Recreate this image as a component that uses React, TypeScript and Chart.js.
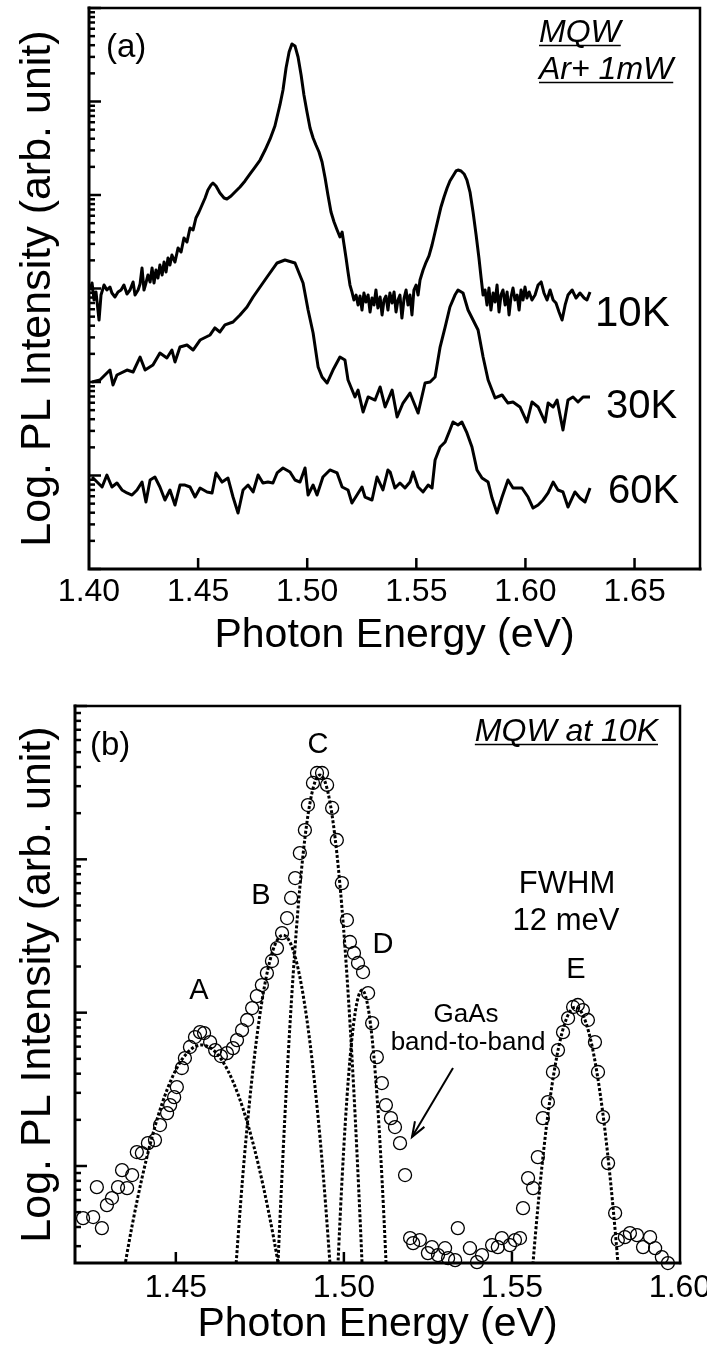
import React, { useEffect, useRef } from "react";
import { Chart, registerables } from "chart.js";

Chart.register(...registerables);

const FONT = "'Liberation Sans', Arial, Helvetica, sans-serif";

// ---------- Panel (a): PL spectra, [photon energy (eV), log10 PL intensity] ----------
const spectrum10K: [number, number][] = [
  [1.4005, 2.984], [1.4014, 3.059], [1.4023, 2.877], [1.4032, 2.963], [1.4046, 2.663], [1.4055, 2.93],
  [1.4069, 3.037], [1.4082, 2.984], [1.4096, 3.016], [1.4105, 2.952], [1.4119, 2.909], [1.4133, 2.963],
  [1.4147, 2.984], [1.416, 3.037], [1.4174, 2.941], [1.4188, 2.984], [1.4202, 3.07], [1.4211, 2.93],
  [1.4225, 2.984], [1.4234, 3.048], [1.4243, 3.219], [1.4252, 2.984], [1.4261, 3.059], [1.427, 3.144],
  [1.428, 3.07], [1.4289, 3.219], [1.4298, 3.059], [1.4307, 3.198], [1.4316, 3.112], [1.4325, 3.251],
  [1.4335, 3.144], [1.4344, 3.283], [1.4353, 3.176], [1.4362, 3.326], [1.4371, 3.251], [1.438, 3.358],
  [1.4394, 3.283], [1.4408, 3.433], [1.4422, 3.39], [1.4435, 3.54], [1.4449, 3.497], [1.4463, 3.647],
  [1.4477, 3.626], [1.449, 3.754], [1.4504, 3.818], [1.4518, 3.893], [1.4532, 3.968], [1.4545, 4.053],
  [1.4559, 4.107], [1.4568, 4.128], [1.4582, 4.096], [1.46, 4.021], [1.4619, 3.968], [1.4632, 3.957],
  [1.4651, 3.989], [1.4669, 4.032], [1.4692, 4.086], [1.4715, 4.15], [1.4738, 4.225], [1.4761, 4.299],
  [1.4784, 4.374], [1.4807, 4.481], [1.483, 4.599], [1.4852, 4.738], [1.4875, 4.963], [1.4889, 5.123],
  [1.4903, 5.358], [1.4917, 5.529], [1.493, 5.615], [1.4944, 5.594], [1.4958, 5.476], [1.4972, 5.283],
  [1.4985, 5.07], [1.4999, 4.888], [1.5013, 4.717], [1.5027, 4.61], [1.504, 4.535], [1.5054, 4.46],
  [1.5068, 4.353], [1.5082, 4.182], [1.5095, 4.0], [1.5109, 3.818], [1.5123, 3.711], [1.5137, 3.626],
  [1.515, 3.551], [1.516, 3.604], [1.5169, 3.465], [1.5178, 3.326], [1.5187, 3.176], [1.5196, 3.037],
  [1.5205, 2.963], [1.5214, 2.877], [1.5224, 2.93], [1.5233, 2.824], [1.5242, 2.92], [1.5251, 2.77],
  [1.526, 2.952], [1.5269, 2.856], [1.5279, 2.93], [1.5288, 2.749], [1.5297, 2.898], [1.5306, 2.824],
  [1.5315, 2.984], [1.5324, 2.791], [1.5334, 2.909], [1.5343, 2.717], [1.5352, 2.877], [1.5361, 2.92],
  [1.537, 2.77], [1.5379, 2.952], [1.5389, 2.845], [1.5398, 2.963], [1.5407, 2.749], [1.5416, 2.877],
  [1.5425, 2.93], [1.5434, 2.684], [1.5444, 2.898], [1.5453, 2.984], [1.5462, 2.824], [1.5471, 2.93],
  [1.548, 2.717], [1.5489, 2.984], [1.5499, 3.037], [1.5508, 2.93], [1.5517, 3.091], [1.5531, 3.198],
  [1.5545, 3.283], [1.5558, 3.348], [1.5572, 3.465], [1.5586, 3.604], [1.5599, 3.733], [1.5613, 3.872],
  [1.5627, 3.979], [1.5641, 4.075], [1.5654, 4.15], [1.5668, 4.203], [1.5682, 4.257], [1.5691, 4.267],
  [1.5705, 4.257], [1.5719, 4.225], [1.5732, 4.16], [1.5746, 4.032], [1.576, 3.818], [1.5774, 3.572],
  [1.5787, 3.326], [1.5797, 3.112], [1.5806, 2.93], [1.5815, 2.984], [1.5824, 2.824], [1.5833, 3.005],
  [1.5842, 2.77], [1.5852, 2.952], [1.5861, 2.856], [1.587, 3.037], [1.5879, 2.749], [1.5888, 2.93],
  [1.5897, 2.984], [1.5907, 2.824], [1.5916, 2.963], [1.5925, 2.717], [1.5934, 2.909], [1.5943, 3.005],
  [1.5952, 2.877], [1.5962, 2.93], [1.5971, 2.77], [1.598, 2.984], [1.5989, 2.877], [1.5998, 3.016],
  [1.6007, 2.898], [1.6017, 2.963], [1.603, 2.877], [1.6044, 2.93], [1.6058, 3.037], [1.6072, 3.07],
  [1.6085, 2.952], [1.6099, 2.877], [1.6113, 2.984], [1.6127, 2.877], [1.614, 2.845], [1.6154, 2.749],
  [1.6168, 2.663], [1.6182, 2.824], [1.6195, 2.93], [1.6214, 2.984], [1.6232, 2.898], [1.625, 2.952],
  [1.6269, 2.898], [1.6282, 2.877], [1.6296, 2.963],
];

const spectrum30K: [number, number][] = [
  [1.4014, 2.0], [1.405, 2.021], [1.4096, 2.128], [1.411, 1.968], [1.4128, 2.075], [1.4174, 2.128],
  [1.4202, 2.107], [1.4234, 2.267], [1.4257, 2.128], [1.4293, 2.182], [1.4325, 2.31], [1.4357, 2.257],
  [1.438, 2.342], [1.4394, 2.214], [1.4417, 2.374], [1.4449, 2.396], [1.4477, 2.342], [1.4509, 2.449],
  [1.4555, 2.503], [1.4577, 2.578], [1.46, 2.535], [1.4623, 2.61], [1.466, 2.642], [1.4692, 2.717],
  [1.4724, 2.802], [1.4752, 2.909], [1.4784, 3.016], [1.4816, 3.123], [1.4862, 3.273], [1.4898, 3.305],
  [1.4944, 3.273], [1.4981, 3.059], [1.5004, 2.77], [1.5027, 2.524], [1.505, 2.16], [1.5068, 2.053],
  [1.5091, 1.989], [1.5118, 2.128], [1.515, 2.267], [1.5173, 2.235], [1.5187, 2.021], [1.5219, 1.84],
  [1.5233, 1.914], [1.5256, 1.679], [1.5279, 1.84], [1.5311, 1.807], [1.5334, 1.947], [1.5357, 1.733],
  [1.5389, 1.914], [1.5412, 1.626], [1.5439, 1.775], [1.5471, 1.882], [1.5508, 1.668], [1.554, 1.989],
  [1.5563, 2.0], [1.5586, 2.053], [1.5609, 2.374], [1.5632, 2.588], [1.5654, 2.802], [1.5677, 2.93],
  [1.5691, 2.984], [1.5714, 2.952], [1.5737, 2.77], [1.5783, 2.556], [1.5806, 2.267], [1.5829, 2.021],
  [1.5861, 1.829], [1.5893, 1.861], [1.592, 1.775], [1.5943, 1.786], [1.5975, 1.733], [1.6007, 1.572],
  [1.603, 1.786], [1.6058, 1.733], [1.609, 1.572], [1.6104, 1.775], [1.6127, 1.733], [1.6145, 1.807],
  [1.6172, 1.487], [1.6195, 1.807], [1.6218, 1.84], [1.6241, 1.786], [1.6264, 1.84], [1.6296, 1.84],
];

const spectrum60K: [number, number][] = [
  [1.4014, 0.984], [1.4037, 0.93], [1.406, 0.877], [1.4082, 1.005], [1.4105, 0.877], [1.4128, 0.92],
  [1.4151, 0.845], [1.4174, 0.813], [1.4197, 0.791], [1.422, 0.845], [1.4243, 0.93], [1.4261, 0.717],
  [1.428, 0.952], [1.4302, 0.984], [1.4325, 0.877], [1.4348, 0.738], [1.4371, 0.845], [1.4394, 0.684],
  [1.4417, 0.898], [1.444, 0.898], [1.4463, 0.877], [1.4486, 0.77], [1.4509, 0.866], [1.4541, 0.824],
  [1.4564, 0.813], [1.4582, 1.027], [1.461, 0.93], [1.4637, 0.973], [1.466, 0.77], [1.4683, 0.599],
  [1.4706, 0.845], [1.4729, 0.898], [1.4752, 0.824], [1.4775, 1.005], [1.4797, 0.92], [1.482, 0.93],
  [1.4843, 0.92], [1.4862, 1.027], [1.4889, 1.08], [1.4921, 1.037], [1.4944, 0.952], [1.4967, 0.93],
  [1.499, 1.08], [1.5004, 0.791], [1.5027, 0.898], [1.5045, 0.791], [1.5072, 0.984], [1.5104, 1.059],
  [1.5137, 1.027], [1.516, 0.877], [1.5187, 0.845], [1.5205, 0.706], [1.5228, 0.791], [1.5251, 0.877],
  [1.5265, 0.77], [1.5297, 0.738], [1.532, 0.984], [1.5347, 0.845], [1.537, 1.059], [1.538, 1.037],
  [1.5402, 0.866], [1.5425, 0.92], [1.5448, 0.866], [1.5471, 0.93], [1.5485, 1.037], [1.5508, 0.877],
  [1.5531, 0.824], [1.5554, 0.898], [1.5572, 0.866], [1.5586, 1.166], [1.5609, 1.305], [1.5632, 1.358],
  [1.5654, 1.487], [1.5668, 1.572], [1.5691, 1.54], [1.5709, 1.572], [1.5732, 1.455], [1.5755, 1.305],
  [1.5778, 1.059], [1.5801, 0.973], [1.5829, 0.93], [1.5847, 0.759], [1.587, 0.599], [1.5893, 0.77],
  [1.592, 0.952], [1.5943, 0.866], [1.5984, 0.866], [1.6012, 0.77], [1.6035, 0.652], [1.6058, 0.684],
  [1.6081, 0.738], [1.6104, 0.813], [1.6127, 0.93], [1.6149, 0.845], [1.6172, 0.824], [1.6195, 0.663],
  [1.6227, 0.824], [1.625, 0.759], [1.6273, 0.717], [1.6296, 0.866],
];

const topTickValues = [1.4, 1.45, 1.5, 1.55, 1.6, 1.65];

// ---------- Panel (b): 10 K spectrum and its Gaussian components A–E ----------
const measured10K: [number, number][] = [
  [1.4224, 0.66], [1.4254, 0.667], [1.4265, 0.862], [1.428, 0.595], [1.4295, 0.745], [1.431, 0.791],
  [1.4328, 0.862], [1.434, 0.973], [1.4355, 0.856], [1.437, 0.941], [1.4384, 1.091], [1.4399, 1.084],
  [1.4417, 1.149], [1.4438, 1.169], [1.4453, 1.267], [1.4474, 1.345], [1.4483, 1.397], [1.4495, 1.449],
  [1.4503, 1.515], [1.4518, 1.639], [1.4527, 1.704], [1.4542, 1.776], [1.4557, 1.841], [1.4572, 1.873],
  [1.4584, 1.867], [1.4602, 1.808], [1.4617, 1.756], [1.4634, 1.717], [1.4652, 1.736], [1.467, 1.769],
  [1.4682, 1.821], [1.4697, 1.886], [1.4712, 1.952], [1.4727, 2.03], [1.4741, 2.108], [1.4756, 2.18],
  [1.4771, 2.258], [1.4786, 2.337], [1.4801, 2.421], [1.4816, 2.519], [1.4831, 2.617], [1.4843, 2.748],
  [1.4855, 2.878], [1.4869, 3.041], [1.4884, 3.191], [1.4893, 3.354], [1.4908, 3.498], [1.492, 3.563],
  [1.4935, 3.563], [1.495, 3.485], [1.4965, 3.335], [1.4979, 3.126], [1.4994, 2.845], [1.5009, 2.604],
  [1.5018, 2.461], [1.503, 2.389], [1.5042, 2.324], [1.5057, 2.265], [1.5072, 2.128], [1.5084, 1.932],
  [1.5098, 1.71], [1.5113, 1.541], [1.5125, 1.397], [1.514, 1.312], [1.5152, 1.254], [1.5167, 1.149],
  [1.5182, 0.941], [1.5197, 0.53], [1.5206, 0.497], [1.5226, 0.517], [1.525, 0.432], [1.5262, 0.471],
  [1.528, 0.419], [1.5301, 0.464], [1.531, 0.399], [1.5331, 0.386], [1.5339, 0.595], [1.5375, 0.464],
  [1.5396, 0.373], [1.5411, 0.419], [1.5441, 0.484], [1.5458, 0.471], [1.547, 0.53], [1.5494, 0.484],
  [1.5509, 0.517], [1.5524, 0.53], [1.5533, 0.725], [1.5548, 0.921], [1.5563, 0.856], [1.5577, 1.058],
  [1.5592, 1.312], [1.5607, 1.417], [1.5622, 1.613], [1.5637, 1.756], [1.5652, 1.873], [1.5667, 1.965],
  [1.5682, 2.037], [1.5696, 2.05], [1.5711, 2.017], [1.5726, 1.952], [1.5747, 1.808], [1.5756, 1.613],
  [1.5771, 1.319], [1.5786, 1.019], [1.5807, 0.693], [1.5815, 0.517], [1.5836, 0.536], [1.5851, 0.562],
  [1.5872, 0.549], [1.589, 0.471], [1.5911, 0.536], [1.5926, 0.464], [1.5946, 0.406], [1.5964, 0.367],
];

const fitA: [number, number][] = [
  [1.434, 0.246], [1.437, 0.612], [1.44, 0.928], [1.443, 1.195], [1.446, 1.413], [1.449, 1.581],
  [1.452, 1.7], [1.455, 1.769], [1.4577, 1.789], [1.461, 1.759], [1.464, 1.68], [1.467, 1.551],
  [1.47, 1.373], [1.473, 1.146], [1.476, 0.869], [1.479, 0.543], [1.482, 0.167],
];
const fitB: [number, number][] = [
  [1.4674, 0.205], [1.4699, 0.93], [1.4719, 1.412], [1.4739, 1.806], [1.4759, 2.112], [1.4779, 2.331],
  [1.4799, 2.462], [1.4819, 2.506], [1.4839, 2.462], [1.4859, 2.331], [1.4879, 2.112], [1.4899, 1.806],
  [1.4919, 1.412], [1.4939, 0.93], [1.4964, 0.205],
];
const fitC: [number, number][] = [
  [1.4799, 0.107], [1.4809, 0.617], [1.4829, 1.513], [1.4849, 2.246], [1.4869, 2.817], [1.4889, 3.224],
  [1.4909, 3.469], [1.4929, 3.55], [1.4949, 3.469], [1.4969, 3.224], [1.4989, 2.817], [1.5009, 2.246],
  [1.5029, 1.513], [1.5049, 0.617], [1.5059, 0.107],
];
const fitD: [number, number][] = [
  [1.4976, 0.024], [1.4984, 0.437], [1.4994, 0.891], [1.5004, 1.275], [1.5014, 1.589], [1.5024, 1.833],
  [1.5034, 2.007], [1.5044, 2.112], [1.5054, 2.147], [1.5064, 2.112], [1.5074, 2.007], [1.5084, 1.833],
  [1.5094, 1.589], [1.5104, 1.275], [1.5114, 0.891], [1.5124, 0.437], [1.5132, 0.024],
];
const fitE: [number, number][] = [
  [1.5554, 0.131], [1.5569, 0.532], [1.5589, 0.992], [1.5609, 1.368], [1.5629, 1.66], [1.5649, 1.869],
  [1.5669, 1.994], [1.5689, 2.036], [1.5709, 1.994], [1.5729, 1.869], [1.5749, 1.66], [1.5769, 1.368],
  [1.5789, 0.992], [1.5809, 0.532], [1.5824, 0.131],
];

const bottomTickValues = [1.45, 1.5, 1.55, 1.6];

// ---------- helpers ----------
const toPoints = (arr: [number, number][]) => arr.map(([e, l]) => ({ x: e, y: Math.pow(10, l) }));

type Note = {
  text: string;
  x: number;
  y: number;
  size: number;
  align?: CanvasTextAlign;
  italic?: boolean;
  underline?: boolean;
};

type Arrow = { x1: number; y1: number; x2: number; y2: number };

// inward ticks, log minor ticks and the box around the plot area
const framePlugin = (xTicks: number[]) => ({
  id: "frameTicks",
  afterDatasetsDraw(chart: any) {
    const { ctx, chartArea } = chart;
    const { left, right, top, bottom } = chartArea;
    const xs = chart.scales.x;
    const ys = chart.scales.y;
    ctx.save();
    ctx.strokeStyle = "#000";
    ctx.lineCap = "butt";
    ctx.lineWidth = 2.5;
    for (const v of xTicks) {
      const px = xs.getPixelForValue(v);
      if (px <= left + 2 || px >= right - 2) continue;
      ctx.beginPath();
      ctx.moveTo(px, bottom);
      ctx.lineTo(px, bottom - 11);
      ctx.stroke();
    }
    const lo = Math.floor(Math.log10(ys.min));
    const hi = Math.ceil(Math.log10(ys.max));
    for (let d = lo; d <= hi; d++) {
      for (let m = 1; m <= 9; m++) {
        const v = m * Math.pow(10, d);
        if (v < ys.min * 0.999 || v > ys.max * 1.001) continue;
        const py = ys.getPixelForValue(v);
        ctx.beginPath();
        ctx.moveTo(left, py);
        ctx.lineTo(left + (m === 1 ? 12 : 6), py);
        ctx.stroke();
      }
    }
    ctx.lineCap = "square";
    ctx.lineWidth = 2.5;
    ctx.beginPath();
    ctx.moveTo(left, top);
    ctx.lineTo(right, top);
    ctx.lineTo(right, bottom);
    ctx.stroke();
    ctx.lineWidth = 3;
    ctx.beginPath();
    ctx.moveTo(left, top);
    ctx.lineTo(left, bottom);
    ctx.lineTo(right, bottom);
    ctx.stroke();
    ctx.restore();
  },
});

const notesPlugin = (notes: Note[], arrows: Arrow[]) => ({
  id: "notes",
  afterDraw(chart: any) {
    const { ctx } = chart;
    ctx.save();
    ctx.fillStyle = "#000";
    ctx.strokeStyle = "#000";
    ctx.textBaseline = "alphabetic";
    for (const n of notes) {
      ctx.font = `${n.italic ? "italic " : ""}${n.size}px ${FONT}`;
      ctx.textAlign = n.align || "left";
      ctx.fillText(n.text, n.x, n.y);
      if (n.underline) {
        const w = ctx.measureText(n.text).width;
        const x0 = n.align === "right" ? n.x - w : n.align === "center" ? n.x - w / 2 : n.x;
        ctx.lineWidth = 1.5;
        ctx.beginPath();
        ctx.moveTo(x0, n.y + 3.5);
        ctx.lineTo(x0 + w, n.y + 3.5);
        ctx.stroke();
      }
    }
    for (const a of arrows) {
      ctx.lineWidth = 2;
      ctx.beginPath();
      ctx.moveTo(a.x1, a.y1);
      ctx.lineTo(a.x2, a.y2);
      ctx.stroke();
      const ang = Math.atan2(a.y1 - a.y2, a.x1 - a.x2);
      const len = 16;
      const spread = 0.35;
      ctx.beginPath();
      ctx.moveTo(a.x2 + len * Math.cos(ang - spread), a.y2 + len * Math.sin(ang - spread));
      ctx.lineTo(a.x2, a.y2);
      ctx.lineTo(a.x2 + len * Math.cos(ang + spread), a.y2 + len * Math.sin(ang + spread));
      ctx.stroke();
    }
    ctx.restore();
  },
});

const xTitleFont = { family: FONT, size: 41, lineHeight: 1 };
const yTitleFont = { family: FONT, size: 43, lineHeight: 1 };
const tickFont = { family: FONT, size: 32 };

function makeOptions(cfg: {
  xMin: number;
  xMax: number;
  yMin: number;
  yMax: number;
  ticks: number[];
  yWidth: number;
  xHeight: number;
  pad: { top: number; right: number };
  tickPad: number;
  titlePad: number;
}) {
  return {
    responsive: false,
    animation: false as const,
    events: [],
    layout: { padding: { top: cfg.pad.top, right: cfg.pad.right, left: 0, bottom: 0 } },
    plugins: { legend: { display: false }, tooltip: { enabled: false } },
    scales: {
      x: {
        type: "linear" as const,
        min: cfg.xMin,
        max: cfg.xMax,
        grid: { display: false, drawTicks: false, tickLength: 0 },
        border: { display: false },
        ticks: {
          font: tickFont,
          color: "#000",
          padding: cfg.tickPad,
          maxRotation: 0,
          autoSkip: false,
          callback: (v: any) => Number(v).toFixed(2),
        },
        title: {
          display: true,
          text: "Photon Energy (eV)",
          font: xTitleFont,
          color: "#000",
          padding: { top: 0, bottom: cfg.titlePad },
        },
        afterBuildTicks: (s: any) => {
          s.ticks = cfg.ticks.map((v) => ({ value: v }));
        },
        afterFit: (s: any) => {
          s.height = cfg.xHeight;
          s.paddingLeft = 0;
          s.paddingRight = 0;
        },
      },
      y: {
        type: "logarithmic" as const,
        min: cfg.yMin,
        max: cfg.yMax,
        grid: { display: false, drawTicks: false },
        border: { display: false },
        ticks: { display: false },
        title: {
          display: true,
          text: "Log. PL Intensity (arb. unit)",
          font: yTitleFont,
          color: "#000",
          padding: { top: 17, bottom: 0 },
        },
        afterFit: (s: any) => {
          s.width = cfg.yWidth;
          s.paddingTop = 0;
          s.paddingBottom = 0;
        },
      },
    },
  };
}

const lineStyle = {
  showLine: true,
  borderColor: "#000",
  borderWidth: 3,
  pointRadius: 0,
  tension: 0,
  borderJoinStyle: "round" as const,
  fill: false,
};

const fitStyle = {
  showLine: true,
  borderColor: "#000",
  borderWidth: 3,
  borderDash: [3, 2],
  pointRadius: 0,
  cubicInterpolationMode: "monotone" as const,
  fill: false,
};

function TopPanel() {
  const ref = useRef<HTMLCanvasElement | null>(null);
  useEffect(() => {
    if (!ref.current) return;
    const notes: Note[] = [
      { text: "(a)", x: 106, y: 57, size: 33 },
      { text: "MQW", x: 539, y: 42, size: 32, italic: true, underline: true },
      { text: "Ar+ 1mW", x: 539, y: 79, size: 32, italic: true, underline: true },
      { text: "10K", x: 595, y: 326, size: 42 },
      { text: "30K", x: 606, y: 418, size: 40 },
      { text: "60K", x: 608, y: 503, size: 40 },
    ];
    const chart = new Chart(ref.current, {
      type: "scatter",
      data: {
        datasets: [
          { label: "10K", data: toPoints(spectrum10K), ...lineStyle },
          { label: "30K", data: toPoints(spectrum30K), ...lineStyle },
          { label: "60K", data: toPoints(spectrum60K), ...lineStyle },
        ],
      },
      options: makeOptions({
        xMin: 1.4,
        xMax: 1.68,
        yMin: 1,
        yMax: 1e6,
        ticks: topTickValues,
        yWidth: 89,
        xHeight: 99,
        pad: { top: 8, right: 7 },
        tickPad: 4,
        titlePad: 12,
      }) as any,
      plugins: [framePlugin(topTickValues), notesPlugin(notes, [])],
    });
    return () => chart.destroy();
  }, []);
  return <canvas ref={ref} width={707} height={668} style={{ display: "block" }} />;
}

function BottomPanel() {
  const ref = useRef<HTMLCanvasElement | null>(null);
  useEffect(() => {
    if (!ref.current) return;
    const notes: Note[] = [
      { text: "(b)", x: 90, y: 87, size: 33 },
      { text: "MQW at 10K", x: 658, y: 73, size: 32, italic: true, underline: true, align: "right" },
      { text: "A", x: 199, y: 331, size: 29, align: "center" },
      { text: "B", x: 261, y: 236, size: 29, align: "center" },
      { text: "C", x: 318, y: 85, size: 29, align: "center" },
      { text: "D", x: 383, y: 285, size: 29, align: "center" },
      { text: "E", x: 576, y: 310, size: 29, align: "center" },
      { text: "FWHM", x: 567, y: 225, size: 31, align: "center" },
      { text: "12 meV", x: 566, y: 262, size: 31, align: "center" },
      { text: "GaAs", x: 466, y: 354, size: 26, align: "center" },
      { text: "band-to-band", x: 468, y: 382, size: 26, align: "center" },
    ];
    const arrows: Arrow[] = [{ x1: 453, y1: 400, x2: 412, y2: 469 }];
    const chart = new Chart(ref.current, {
      type: "scatter",
      data: {
        datasets: [
          { label: "A", data: toPoints(fitA), ...fitStyle },
          { label: "B", data: toPoints(fitB), ...fitStyle },
          { label: "C", data: toPoints(fitC), ...fitStyle },
          { label: "D", data: toPoints(fitD), ...fitStyle },
          { label: "E", data: toPoints(fitE), ...fitStyle },
          {
            label: "10K",
            data: toPoints(measured10K),
            showLine: false,
            pointRadius: 6.5,
            pointBorderWidth: 1.3,
            pointBorderColor: "#000",
            pointBackgroundColor: "rgba(0,0,0,0)",
            clip: false as any,
          },
        ],
      },
      options: makeOptions({
        xMin: 1.42,
        xMax: 1.6,
        yMin: 2.33,
        yMax: 1e4,
        ticks: bottomTickValues,
        yWidth: 75,
        xHeight: 90,
        pad: { top: 38, right: 27 },
        tickPad: 6,
        titlePad: 8,
      }) as any,
      plugins: [framePlugin(bottomTickValues), notesPlugin(notes, arrows)],
    });
    return () => chart.destroy();
  }, []);
  return <canvas ref={ref} width={707} height={685} style={{ display: "block" }} />;
}

export default function App() {
  return (
    <div
      style={{
        position: "absolute",
        left: 0,
        top: 0,
        width: 707,
        height: 1353,
        background: "#fff",
        overflow: "hidden",
      }}
    >
      <TopPanel />
      <BottomPanel />
    </div>
  );
}
